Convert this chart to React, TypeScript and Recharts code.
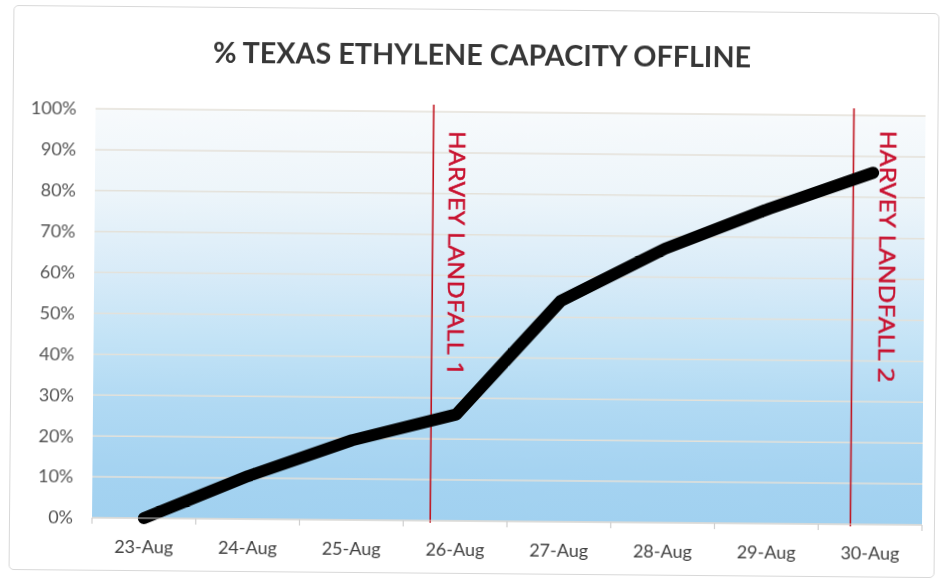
import React from 'react';
import { LineChart, Line, XAxis, YAxis, CartesianGrid, ReferenceLine } from 'recharts';

// ---- data ----
const categories = ['23-Aug', '24-Aug', '25-Aug', '26-Aug', '27-Aug', '28-Aug', '29-Aug', '30-Aug'];
const offlinePct = [0, 10.5, 19.5, 26, 54, 67, 77, 86];
const yTicks = [0, 10, 20, 30, 40, 50, 60, 70, 80, 90, 100];
const landfallNames = ['HARVEY LANDFALL 1', 'HARVEY LANDFALL 2'];
const landfallX = [2.76, 6.81];
const landfallSpan = [-0.5, 101.7];

// ---- styling ----
const FONT = 'Lato, "Open Sans", "DejaVu Sans", sans-serif';
const LABEL_FONT = '"Open Sans", Lato, "DejaVu Sans", sans-serif';
const labelPlacement = [
  { dx: 15.5, dy: 26, len: 245 },
  { dx: 26.5, dy: 22, len: 252 },
];

const data = categories.map((c, i) => ({ idx: i, label: c, value: offlinePct[i] }));
const xTicks: number[] = [];
for (let i = 0; i < categories.length; i++) {
  xTicks.push(i - 0.5);
  xTicks.push(i);
}
xTicks.push(categories.length - 0.5);

const XTick = (props: any) => {
  const { x, y, payload } = props;
  const v = payload.value as number;
  if (Number.isInteger(v)) {
    return (
      <text x={x} y={y + 22} dy="0.71em" textAnchor="middle" fill="#404040" fontSize={18} fontFamily={FONT}>
        {categories[v]}
      </text>
    );
  }
  return <line x1={x} x2={x} y1={y} y2={y + 6} stroke="#cfcfcf" strokeWidth={1.2} />;
};

const makeLandfallLabel = (i: number) => (props: any) => {
  const vb = props.viewBox || {};
  const bx = (vb.x ?? 0) + labelPlacement[i].dx;
  const y0 = (vb.y ?? 0) + labelPlacement[i].dy;
  return (
    <text
      x={bx}
      y={y0}
      transform={`rotate(90 ${bx} ${y0})`}
      fill="#c8102e"
      stroke="#c8102e"
      strokeWidth={0.55}
      fontSize={22}
      fontFamily={LABEL_FONT}
      textLength={labelPlacement[i].len}
      lengthAdjust="spacingAndGlyphs"
    >
      {landfallNames[i]}
    </text>
  );
};

export default function App() {
  return (
    <div
      style={{
        position: 'fixed',
        left: 0,
        top: 0,
        width: 940,
        height: 582,
        background: '#fff',
        transform: 'rotate(0.5deg)',
        transformOrigin: '470px 291px',
        fontFamily: FONT,
      }}
    >
      <div
        style={{
          position: 'absolute',
          left: 11,
          top: 9,
          width: 926,
          height: 565,
          border: '1.5px solid #d8d8d8',
          borderRadius: 5,
          boxSizing: 'border-box',
        }}
      />
      <svg width={940} height={80} style={{ position: 'absolute', left: 0, top: 0 }}>
        <text
          x={480}
          y={65}
          textAnchor="middle"
          fontFamily={FONT}
          fontWeight={700}
          fontSize={29}
          fill="#363636"
          textLength={538}
          lengthAdjust="spacingAndGlyphs"
        >
          % TEXAS ETHYLENE CAPACITY OFFLINE
        </text>
      </svg>
      <div style={{ position: 'absolute', left: 0, top: 0 }}>
        <LineChart width={940} height={582} data={data} margin={{ top: 112, right: 16, bottom: 21, left: 24 }}>
          <defs>
            <linearGradient id="plotBg" x1="0" y1="0" x2="0" y2="1">
              <stop offset="0" stopColor="#f7fafc" />
              <stop offset="0.2" stopColor="#edf5fa" />
              <stop offset="0.4" stopColor="#d8ebf8" />
              <stop offset="0.56" stopColor="#c3e3f6" />
              <stop offset="0.72" stopColor="#b0d9f3" />
              <stop offset="0.88" stopColor="#a5d3f1" />
              <stop offset="1" stopColor="#a1d1f0" />
            </linearGradient>
          </defs>
          <CartesianGrid vertical={false} stroke="#e4e1d9" strokeWidth={1.5} fill="url(#plotBg)" fillOpacity={1} />
          <XAxis
            dataKey="idx"
            type="number"
            domain={[-0.5, categories.length - 0.5]}
            ticks={xTicks}
            interval={0}
            tick={<XTick />}
            tickLine={false}
            tickSize={0}
            tickMargin={0}
            axisLine={{ stroke: '#d6d6d6', strokeWidth: 1.2 }}
            height={40}
          />
          <YAxis
            type="number"
            domain={[0, 100]}
            ticks={yTicks}
            interval={0}
            tickFormatter={(v: number) => `${v}%`}
            axisLine={false}
            tickLine={false}
            tickSize={0}
            tickMargin={19}
            width={70}
            tick={{ fill: '#555555', fontSize: 18, fontFamily: FONT }}
          />
          {landfallX.map((lx, i) => (
            <ReferenceLine
              key={landfallNames[i]}
              segment={[
                { x: lx, y: landfallSpan[0] },
                { x: lx, y: landfallSpan[1] },
              ]}
              ifOverflow="visible"
              stroke="#c0141f"
              strokeWidth={1.6}
              label={makeLandfallLabel(i)}
            />
          ))}
          <Line
            type="linear"
            dataKey="value"
            stroke="#000"
            strokeWidth={12}
            dot={false}
            activeDot={false}
            strokeLinecap="round"
            strokeLinejoin="round"
            isAnimationActive={false}
          />
        </LineChart>
      </div>
    </div>
  );
}
